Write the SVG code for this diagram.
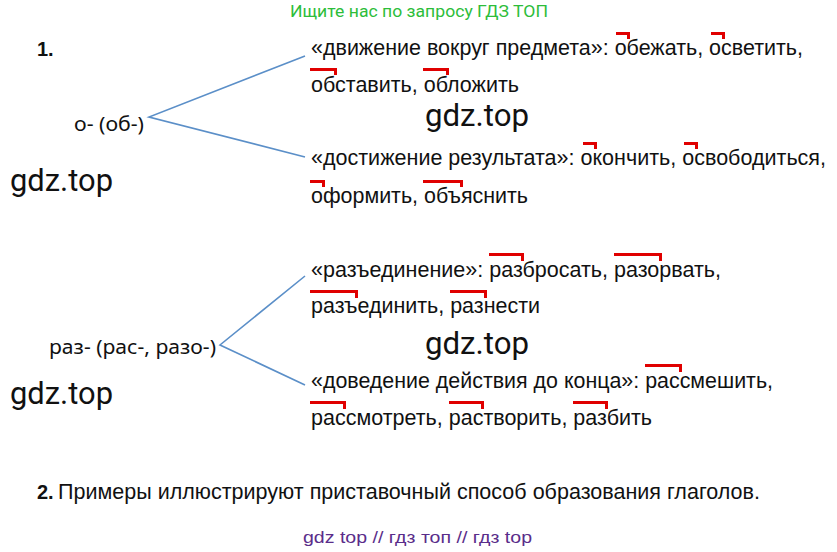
<svg xmlns="http://www.w3.org/2000/svg" width="837" height="552" viewBox="0 0 837 552">
<style>
.t{font-family:"Liberation Sans",Arial,sans-serif;font-size:21.5px;fill:#111}
.p{font-family:"Noto Sans","Open Sans",sans-serif;font-size:20.5px;fill:#111}
.w{font-family:Roboto,"Noto Sans",sans-serif;font-size:31.5px;fill:#111}
.b{font-family:"Liberation Sans",Arial,sans-serif;font-size:20px;font-weight:bold;fill:#111}
.c{stroke:#5b8fc8;stroke-width:1.6;fill:none}
.m{stroke:#e00000;stroke-width:3;fill:none}
</style>
<rect width="837" height="552" fill="#fff"/>
<text x="290" y="17" textLength="258" lengthAdjust="spacingAndGlyphs" style="font-family:Roboto,'Noto Sans',sans-serif;font-size:16.5px;fill:#2dbd3a">Ищите нас по запросу ГДЗ ТОП</text>
<text class="b" x="37" y="56">1.</text>
<g id="connectors">
<polyline class="c" points="305,56 149,117 305,157"/>
<polyline class="c" points="305,276 220,345 305,385"/>
</g>
<g id="prefix-o"><text class="p" x="74" y="131" textLength="70" lengthAdjust="spacingAndGlyphs">о- (об-)</text></g>
<g id="prefix-raz"><text class="p" x="49" y="354" textLength="167" lengthAdjust="spacingAndGlyphs">раз- (рас-, разо-)</text></g>
<g id="n1">
<text class="t" x="311" y="54.5" textLength="492" lengthAdjust="spacingAndGlyphs">«движение вокруг предмета»: обежать, осветить,</text>
<text class="t" x="311" y="91.5" textLength="208" lengthAdjust="spacingAndGlyphs">обставить, обложить</text>
<path class="m" d="M616,33.5H628.5V39M711,33.5H723.5V39M310,69.5H335.5V75M423,69.5H447.5V75"/>
</g>
<g id="n2">
<text class="t" x="311" y="165" textLength="515" lengthAdjust="spacingAndGlyphs">«достижение результата»: окончить, освободиться,</text>
<text class="t" x="311" y="202.5" textLength="217" lengthAdjust="spacingAndGlyphs">оформить, объяснить</text>
<path class="m" d="M583,143.5H595.5V149M684,143.5H696.5V149M310,181.5H323.5V187M423,181.5H461.5V187"/>
</g>
<g id="n3">
<text class="t" x="311" y="276.5" textLength="410" lengthAdjust="spacingAndGlyphs">«разъединение»: разбросать, разорвать,</text>
<text class="t" x="311" y="313" textLength="229" lengthAdjust="spacingAndGlyphs">разъединить, разнести</text>
<path class="m" d="M489,254.5H522.5V261M614,254.5H660.5V261M310,291.5H356.5V298M450,291.5H485.5V298"/>
</g>
<g id="n4">
<text class="t" x="311" y="388" textLength="462" lengthAdjust="spacingAndGlyphs">«доведение действия до конца»: рассмешить,</text>
<text class="t" x="311" y="425" textLength="341" lengthAdjust="spacingAndGlyphs">рассмотреть, растворить, разбить</text>
<path class="m" d="M645,365.5H680.5V372M310,402.5H344.5V409M449,402.5H482.5V409M573,402.5H606.5V409"/>
</g>
<text class="w" x="425" y="126" textLength="104" lengthAdjust="spacingAndGlyphs">gdz.top</text>
<text class="w" x="10" y="191" textLength="103" lengthAdjust="spacingAndGlyphs">gdz.top</text>
<text class="w" x="425" y="354" textLength="104" lengthAdjust="spacingAndGlyphs">gdz.top</text>
<text class="w" x="10" y="404" textLength="103" lengthAdjust="spacingAndGlyphs">gdz.top</text>
<text class="b" x="37" y="499">2.</text>
<text class="t" x="58" y="499" textLength="702" lengthAdjust="spacingAndGlyphs">Примеры иллюстрируют приставочный способ образования глаголов.</text>
<text x="303" y="543" textLength="229" lengthAdjust="spacingAndGlyphs" style="font-family:'Liberation Sans',Arial,sans-serif;font-size:17px;fill:#5a2d8a">gdz top  //  гдз топ  //  гдз top</text>
</svg>
